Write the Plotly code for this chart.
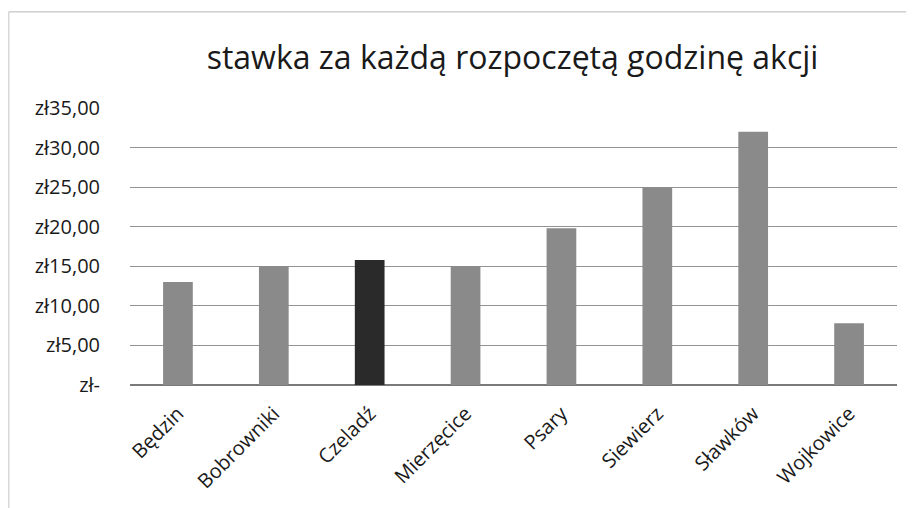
import plotly.graph_objects as go

categories = ["Będzin", "Bobrowniki", "Czeladź", "Mierzęcice", "Psary", "Siewierz", "Sławków", "Wojkowice"]
values = [13, 15, 15.8, 15, 19.8, 25, 32, 7.8]
bar_colors = ["#8a8a8a", "#8a8a8a", "#2a2a2a", "#8a8a8a", "#8a8a8a", "#8a8a8a", "#8a8a8a", "#8a8a8a"]
tick_vals = [0, 5, 10, 15, 20, 25, 30, 35]
tick_text = ["zł-", "zł5,00", "zł10,00", "zł15,00", "zł20,00", "zł25,00", "zł30,00", "zł35,00"]
title_text = "stawka za każdą rozpoczętą godzinę akcji"

fig = go.Figure()
fig.add_trace(go.Bar(
    x=categories, y=values,
    marker=dict(color=bar_colors, line=dict(width=0)),
    width=0.31,
))

font_family = "Open Sans, Lato, sans-serif"
fig.update_layout(
    width=914, height=508,
    margin=dict(l=122, r=25, t=100, b=131, autoexpand=False),
    paper_bgcolor="white", plot_bgcolor="white",
    showlegend=False,
    title=dict(text=title_text, x=0.552, xanchor="center", y=0.902, yanchor="middle",
               font=dict(family=font_family, size=32, color="#1a1a1a")),
    font=dict(family=font_family, color="#1a1a1a"),
    bargap=0.69,
)
fig.update_xaxes(
    tickangle=-45, tickfont=dict(size=20, color="#1a1a1a"),
    showgrid=False, showline=False, ticks="", ticklabelstandoff=12,
)
fig.update_yaxes(
    range=[0, 35], tickvals=tick_vals, ticktext=tick_text,
    tickfont=dict(size=20, color="#1a1a1a"),
    showgrid=True, gridcolor="#939393", gridwidth=1,
    zeroline=True, zerolinecolor="#7a7a7a", zerolinewidth=1.5,
    showline=False, ticks="", ticklabelstandoff=29,
)
fig.add_shape(type="line", xref="paper", yref="paper", x0=-0.158, x1=1.03, y0=1.347, y1=1.347,
              line=dict(color="#b5b5b5", width=1))
fig.add_shape(type="line", xref="paper", yref="paper", x0=-0.158, x1=-0.158, y0=1.347, y1=-0.5,
              line=dict(color="#c5c5c5", width=1))
fig.write_html("out.html")
